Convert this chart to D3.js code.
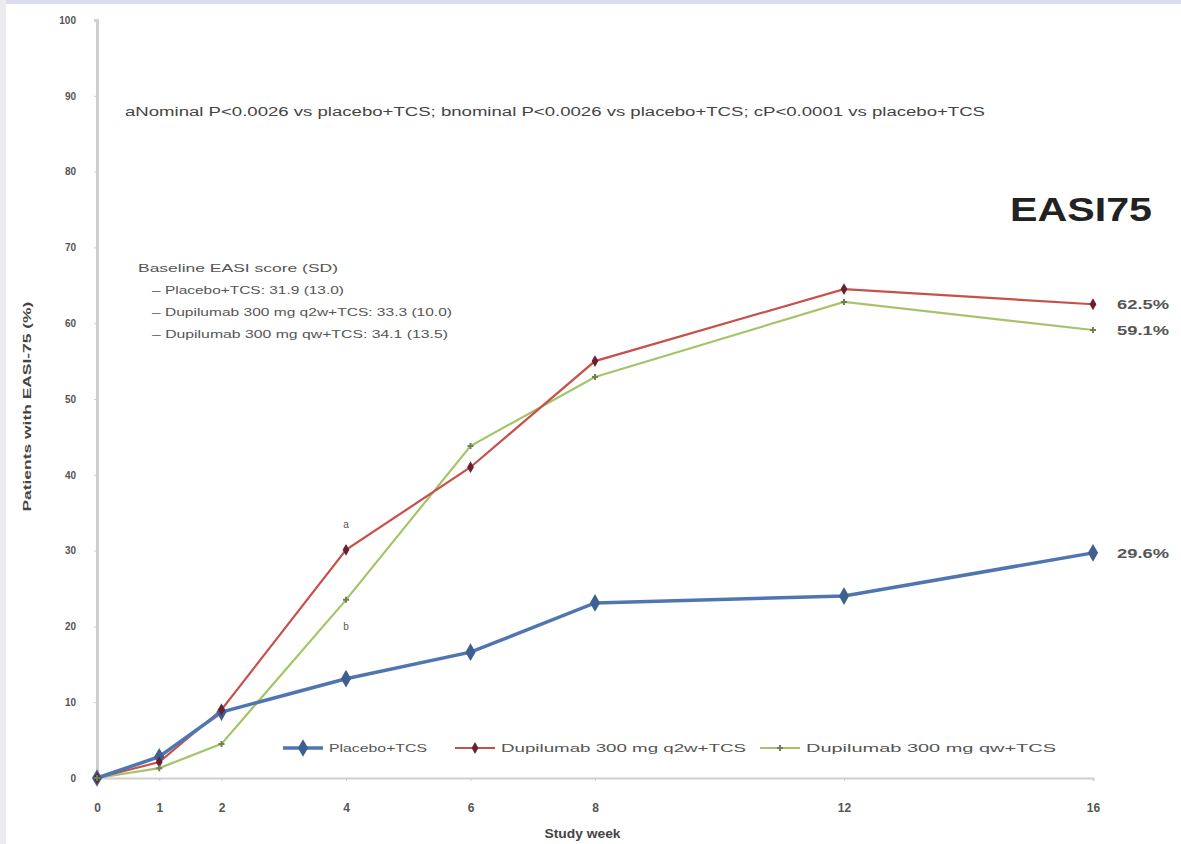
<!DOCTYPE html>
<html>
<head>
<meta charset="utf-8">
<script src="https://cdn.jsdelivr.net/npm/d3@7"></script>
<style>
  body { margin: 0; background: #fff; font-family: Arial, "Liberation Sans", sans-serif; }
</style>
</head>
<body>
<div id="chart"></div>
<script>
const weeks = [0, 1, 2, 4, 6, 8, 12, 16];
const placebo = [0, 2.8, 8.7, 13.1, 16.6, 23.1, 24.0, 29.7];
const q2w = [0, 2.1, 9.0, 30.1, 41.0, 55.0, 64.5, 62.5];
const qw = [0, 1.3, 4.5, 23.5, 43.8, 52.9, 62.8, 59.1];
const endLabels = ["29.6%", "62.5%", "59.1%"];
const yTicks = [0, 10, 20, 30, 40, 50, 60, 70, 80, 90, 100];
const seriesNames = ["Placebo+TCS", "Dupilumab 300 mg q2w+TCS", "Dupilumab 300 mg qw+TCS"];
const baselineLines = [
  "Baseline EASI score (SD)",
  "– Placebo+TCS: 31.9 (13.0)",
  "– Dupilumab 300 mg q2w+TCS: 33.3 (10.0)",
  "– Dupilumab 300 mg qw+TCS: 34.1 (13.5)"
];
const footnote = "aNominal P<0.0026 vs placebo+TCS; bnominal P<0.0026 vs placebo+TCS; cP<0.0001 vs placebo+TCS";

const W = 1181, H = 844;
const margin = { top: 20, right: 88, bottom: 66, left: 97 };
const width = 1093 - margin.left;
const height = 778 - margin.top;

const svg = d3.select("#chart").append("svg")
  .attr("width", W).attr("height", H);

// faint frame like the scanned slide
svg.append("rect").attr("x", 0).attr("y", 0).attr("width", W).attr("height", 4).attr("fill", "#dcdcef");
svg.append("rect").attr("x", 0).attr("y", 0).attr("width", 6).attr("height", H).attr("fill", "#ececf0");

const g = svg.append("g").attr("transform", "translate(" + margin.left + "," + margin.top + ")");

const x = d3.scaleLinear().domain([0, 16]).range([0, width]);
const y = d3.scaleLinear().domain([0, 100]).range([height, 0]);

// y axis
const yAxis = g.append("g").call(d3.axisLeft(y).tickValues(yTicks).tickSize(3).tickPadding(18));
yAxis.select(".domain").attr("stroke", "#cfcfcf").attr("stroke-width", 3);
yAxis.selectAll(".tick line").attr("stroke", "#cfcfcf");
yAxis.selectAll("text").attr("font-size", 10).attr("font-weight", "bold").attr("fill", "#555");

// x axis
const xAxis = g.append("g").attr("transform", "translate(0," + height + ")")
  .call(d3.axisBottom(x).tickValues(weeks).tickSize(3).tickPadding(22));
xAxis.select(".domain").attr("stroke", "#cfcfcf").attr("stroke-width", 2);
xAxis.selectAll(".tick line").attr("stroke", "#cfcfcf");
xAxis.selectAll("text").attr("font-size", 12).attr("font-weight", "bold").attr("fill", "#555");

g.append("text").attr("x", x(7.8)).attr("y", height + 60)
  .attr("text-anchor", "middle").attr("font-size", 12).attr("font-weight", "bold").attr("fill", "#444")
  .attr("textLength", 76).attr("lengthAdjust", "spacingAndGlyphs")
  .text("Study week");

g.append("text").attr("transform", "translate(" + (-66) + "," + y(49) + ") rotate(-90)")
  .attr("text-anchor", "middle").attr("font-size", 11).attr("font-weight", "bold").attr("fill", "#444")
  .attr("textLength", 210).attr("lengthAdjust", "spacingAndGlyphs")
  .text("Patients with EASI-75 (%)");

const series = [
  { name: seriesNames[0], values: placebo, color: "#4f76b0", width: 3.5, marker: "diamond", size: 90, mcolor: "#3f5f90", lw: 98 },
  { name: seriesNames[1], values: q2w, color: "#c8504a", width: 2.2, marker: "diamond", size: 40, mcolor: "#6a2030", lw: 245 },
  { name: seriesNames[2], values: qw, color: "#a5c46a", width: 2.2, marker: "cross", size: 20, mcolor: "#708050", lw: 250 }
];

const line = d3.line().x((d, i) => x(weeks[i])).y(d => y(d));

series.slice().reverse().forEach(s => {
  g.append("path").datum(s.values)
    .attr("fill", "none").attr("stroke", s.color).attr("stroke-width", s.width)
    .attr("d", line);
});

const symbolFor = s => d3.symbol().type(s.marker === "diamond" ? d3.symbolDiamond : d3.symbolCross).size(s.size);

series.forEach(s => {
  g.append("g").selectAll("path")
    .data(s.values)
    .join("path")
    .attr("transform", (d, i) => "translate(" + x(weeks[i]) + "," + y(d) + ")")
    .attr("d", symbolFor(s))
    .attr("fill", s.mcolor);
});

// end labels
series.forEach((s, i) => {
  g.append("text").attr("x", x(16) + 24).attr("y", y(s.values[7]) + 5)
    .attr("font-size", 12).attr("font-weight", "bold").attr("fill", "#555")
    .attr("textLength", 52).attr("lengthAdjust", "spacingAndGlyphs")
    .text(endLabels[i]);
});

// week 4 markers a / b
g.append("text").attr("x", x(4)).attr("y", y(q2w[3]) - 22).attr("text-anchor", "middle")
  .attr("font-size", 10).attr("fill", "#555").text("a");
g.append("text").attr("x", x(4)).attr("y", y(qw[3]) + 30).attr("text-anchor", "middle")
  .attr("font-size", 10).attr("fill", "#555").text("b");

// footnote
svg.append("text").attr("x", 125).attr("y", 116)
  .attr("font-size", 12).attr("fill", "#444")
  .attr("textLength", 860).attr("lengthAdjust", "spacingAndGlyphs")
  .text(footnote);

// EASI75 label
svg.append("text").attr("x", 1010).attr("y", 221)
  .attr("font-size", 34).attr("font-weight", "bold").attr("fill", "#222")
  .attr("textLength", 142).attr("lengthAdjust", "spacingAndGlyphs")
  .text("EASI75");

// baseline box
const baseW = [200, 192, 300, 296];
baselineLines.forEach((t, i) => {
  svg.append("text").attr("x", i === 0 ? 138 : 152).attr("y", 272 + i * 22)
    .attr("font-size", 10.5).attr("fill", "#555")
    .attr("textLength", baseW[i]).attr("lengthAdjust", "spacingAndGlyphs")
    .text(t);
});

// bottom legend
const legendX = [283, 455, 760];
series.forEach((s, i) => {
  const lg = svg.append("g").attr("transform", "translate(" + legendX[i] + ",748)");
  lg.append("line").attr("x1", 0).attr("x2", 40).attr("stroke", s.color).attr("stroke-width", s.width);
  lg.append("path").attr("transform", "translate(20,0)")
    .attr("d", symbolFor(s))
    .attr("fill", s.mcolor);
  lg.append("text").attr("x", 46).attr("y", 4).attr("font-size", 11).attr("fill", "#555")
    .attr("textLength", s.lw).attr("lengthAdjust", "spacingAndGlyphs")
    .text(s.name);
});
</script>
</body>
</html>
